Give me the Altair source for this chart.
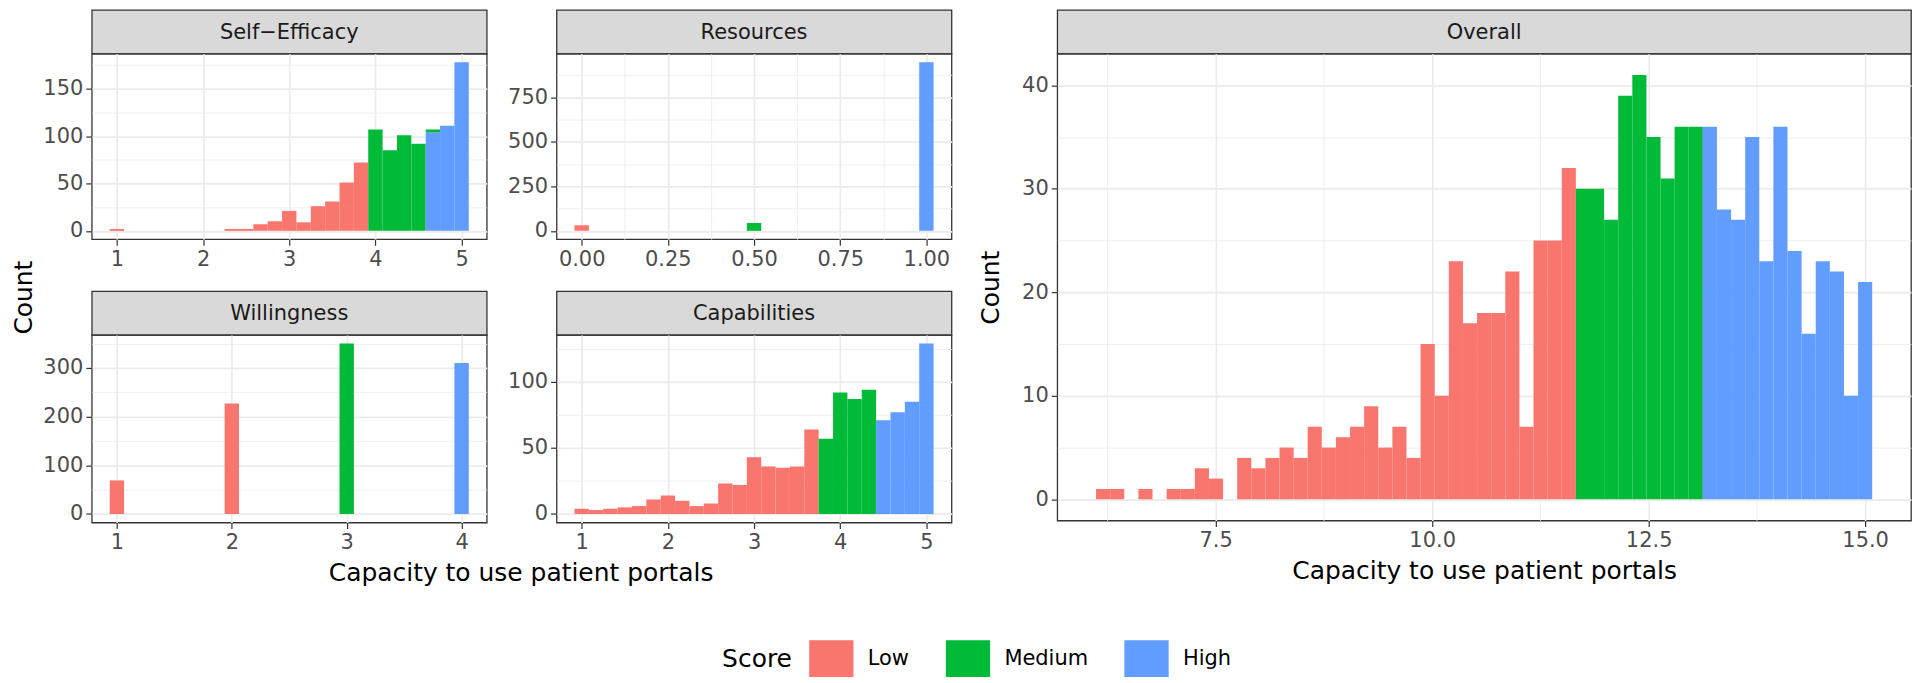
import json
import altair as alt
import pandas as pd

FONT = "DejaVu Sans"
SCORE_ORDER = ["Low", "Medium", "High"]
SCORE_COLORS = ["#F8766D", "#00BA38", "#619CFF"]

# ---------------- data ----------------
# Self-Efficacy (bin width 1/6)
se_centers = [1.0, 2.3333, 2.5, 2.6667, 2.8333, 3.0, 3.1667, 3.3333, 3.5, 3.6667, 3.8333,
              4.0, 4.1667, 4.3333, 4.5, 4.6667, 4.6667, 4.8333, 5.0]
se_counts = [2, 2, 2, 7, 10, 21, 9, 26, 31, 51, 72,
             107, 85, 101, 92, 3, 104, 111, 178]
se_scores = ["Low", "Low", "Low", "Low", "Low", "Low", "Low", "Low", "Low", "Low", "Low",
             "Medium", "Medium", "Medium", "Medium", "Medium", "High", "High", "High"]
se_binwidth = 0.16667

# Resources (bin width 1/24)
res_centers = [0.0, 0.5, 1.0]
res_counts = [31, 44, 948]
res_scores = ["Low", "Medium", "High"]
res_binwidth = 0.041667

# Willingness (bin width 0.125)
will_centers = [1.0, 2.0, 3.0, 4.0]
will_counts = [69, 227, 350, 310]
will_scores = ["Low", "Low", "Medium", "High"]
will_binwidth = 0.125

# Capabilities (bin width 1/6)
cap_centers = [1.0, 1.1667, 1.3333, 1.5, 1.6667, 1.8333, 2.0, 2.1667, 2.3333, 2.5, 2.6667,
               2.8333, 3.0, 3.1667, 3.3333, 3.5, 3.6667, 3.8333, 4.0, 4.1667, 4.3333, 4.5,
               4.6667, 4.8333, 5.0]
cap_counts = [4, 3, 4, 5, 6, 11, 14, 10, 6, 8, 23, 22, 43, 36, 35, 36, 64,
              57, 92, 87, 94, 71, 77, 85, 129]
cap_scores = ["Low"] * 17 + ["Medium"] * 4 + ["High"] * 4
cap_binwidth = 0.16667

# Overall (bin width ~0.163)
ov_centers = [6.200, 6.363, 6.526, 6.689, 6.852, 7.015, 7.178, 7.341, 7.504, 7.667,
              7.830, 7.993, 8.156, 8.319, 8.481, 8.644, 8.807, 8.970, 9.133, 9.296,
              9.459, 9.622, 9.785, 9.948, 10.111, 10.274, 10.437, 10.600, 10.763, 10.926,
              11.089, 11.252, 11.415, 11.578, 11.741, 11.904, 12.067, 12.230, 12.393, 12.556,
              12.719, 12.881, 13.044, 13.207, 13.370, 13.533, 13.696, 13.859, 14.022, 14.185,
              14.348, 14.511, 14.674, 14.837, 15.000]
ov_counts = [1, 1, 0, 1, 0, 1, 1, 3, 2, 0,
             4, 3, 4, 5, 4, 7, 5, 6, 7, 9,
             5, 7, 4, 15, 10, 23, 17, 18, 18, 22,
             7, 25, 25, 32, 30, 30, 27, 39, 41, 35,
             31, 36, 36, 36, 28, 27, 35, 23, 36, 24,
             16, 23, 22, 10, 21]
ov_scores = ["Low"] * 34 + ["Medium"] * 9 + ["High"] * 12
ov_binwidth = 0.16296

# ---------------- layout ----------------
STRIP_H = 44
SMALL_W = 396
TOP_H = 186
BOT_H = 188
OV_W = 856
OV_H = 468
COL_SP = 19
ROW_SP = 20
MID_SP = 25


def bars_df(centers, counts, scores, width):
    df = pd.DataFrame({"center": centers, "count": counts, "Score": scores})
    df = df[df["count"] > 0].copy()
    df["x0"] = df["center"] - width / 2
    df["x1"] = df["center"] + width / 2
    rank = {"High": 0, "Medium": 1, "Low": 2}
    df["rk"] = df["Score"].map(rank)
    df = df.sort_values(["center", "rk"])
    df["y1"] = df.groupby("center")["count"].cumsum()
    df["y0"] = df["y1"] - df["count"]
    return df


def make_axis(major, minor, fmt, title=None, title_pad=None):
    vals = sorted(major + minor)
    test = f"indexof({json.dumps(major)}, datum.value) >= 0"
    kw = dict(
        values=vals,
        format=fmt,
        title=title,
        labelExpr=f"({test}) ? datum.label : ''",
        gridWidth={"condition": {"test": test, "value": 1.7}, "value": 0.8},
        tickOpacity={"condition": {"test": test, "value": 1}, "value": 0},
    )
    if title_pad is not None:
        kw["titlePadding"] = title_pad
    return alt.Axis(**kw)


LEGEND = alt.Legend(
    orient="none", legendX=632, legendY=632, direction="horizontal",
    titleOrient="left", titleAnchor="middle", titleBaseline="middle",
    symbolType="M-1.2,-1H1.2V1H-1.2Z", symbolSize=1369, symbolStrokeWidth=0, symbolOpacity=1,
    labelFont=FONT, labelFontSize=21, labelColor="#000000",
    titleFont=FONT, titleFontSize=25, titleFontWeight="normal", titleColor="#000000",
    titlePadding=20, labelOffset=18, columnPadding=36,
)


def panel(df, name, xaxis, yaxis, w, h):
    xmin = df["x0"].min()
    xmax = df["x1"].max()
    xr = xmax - xmin
    ymax = df["y1"].max()
    xdom = [xmin - 0.05 * xr, xmax + 0.05 * xr]
    ydom = [-0.05 * ymax, 1.05 * ymax]
    strip = alt.Chart(pd.DataFrame({"t": [name]})).mark_text(
        font=FONT, fontSize=21, color="#1A1A1A", align="center", baseline="middle"
    ).encode(
        text="t:N", x=alt.value(w / 2), y=alt.value(STRIP_H / 2 + 1)
    ).properties(
        width=w, height=STRIP_H,
        view=alt.ViewBackground(fill="#D9D9D9", stroke="#333333", strokeWidth=1.3),
    )
    plot = alt.Chart(df).mark_rect().encode(
        x=alt.X("x0:Q", scale=alt.Scale(domain=xdom, nice=False, zero=False), axis=xaxis),
        x2="x1:Q",
        y=alt.Y("y0:Q", scale=alt.Scale(domain=ydom, nice=False, zero=False), axis=yaxis),
        y2="y1:Q",
        color=alt.Color("Score:N", scale=alt.Scale(domain=SCORE_ORDER, range=SCORE_COLORS),
                        legend=LEGEND),
    ).properties(width=w, height=h)
    return alt.vconcat(strip, plot, spacing=0, bounds="flush")


p_se = panel(bars_df(se_centers, se_counts, se_scores, se_binwidth), "Self\u2212Efficacy",
             make_axis([1, 2, 3, 4, 5], [1.5, 2.5, 3.5, 4.5], "d"),
             make_axis([0, 50, 100, 150], [25, 75, 125, 175], "d"), SMALL_W, TOP_H)
p_res = panel(bars_df(res_centers, res_counts, res_scores, res_binwidth), "Resources",
              make_axis([0, 0.25, 0.5, 0.75, 1], [0.125, 0.375, 0.625, 0.875], ".2f"),
              make_axis([0, 250, 500, 750], [125, 375, 625, 875], "d"), SMALL_W, TOP_H)
p_will = panel(bars_df(will_centers, will_counts, will_scores, will_binwidth), "Willingness",
               make_axis([1, 2, 3, 4], [1.5, 2.5, 3.5], "d"),
               make_axis([0, 100, 200, 300], [50, 150, 250, 350], "d"), SMALL_W, BOT_H)
p_cap = panel(bars_df(cap_centers, cap_counts, cap_scores, cap_binwidth), "Capabilities",
              make_axis([1, 2, 3, 4, 5], [1.5, 2.5, 3.5, 4.5], "d"),
              make_axis([0, 50, 100], [25, 75, 125], "d"), SMALL_W, BOT_H)
p_ov = panel(bars_df(ov_centers, ov_counts, ov_scores, ov_binwidth), "Overall",
             make_axis([7.5, 10, 12.5, 15], [6.25, 8.75, 11.25, 13.75], ".1f",
                       title="Capacity to use patient portals", title_pad=8),
             make_axis([0, 10, 20, 30, 40], [5, 15, 25, 35], "d", title="Count", title_pad=18),
             OV_W, OV_H)

row1 = alt.hconcat(p_se, p_res, spacing=COL_SP)
row2 = alt.hconcat(p_will, p_cap, spacing=COL_SP)
inner = alt.vconcat(row1, row2, spacing=ROW_SP).properties(
    title=alt.TitleParams("Capacity to use patient portals", orient="bottom", anchor="middle",
                          font=FONT, fontSize=25, fontWeight="normal", color="#000000",
                          offset=8, dx=24)
)
left = alt.hconcat(inner).properties(
    title=alt.TitleParams("Count", orient="left", anchor="middle",
                          font=FONT, fontSize=25, fontWeight="normal", color="#000000",
                          offset=5)
)

chart = alt.hconcat(
    left, p_ov, spacing=MID_SP,
    padding={"left": 4, "top": 0, "right": 0, "bottom": 0}, background="white",
).configure_view(
    stroke="#333333", strokeWidth=1.3
).configure_axis(
    domain=False,
    tickColor="#333333", tickSize=6, tickWidth=1.2,
    labelColor="#4D4D4D", labelFont=FONT, labelFontSize=21, labelPadding=3,
    labelOverlap=False, labelFlush=False,
    gridColor="#EBEBEB",
    titleFont=FONT, titleFontSize=25, titleFontWeight="normal", titleColor="#000000",
)

chart.save("out.html", embed_options={"renderer": "svg", "actions": False})
